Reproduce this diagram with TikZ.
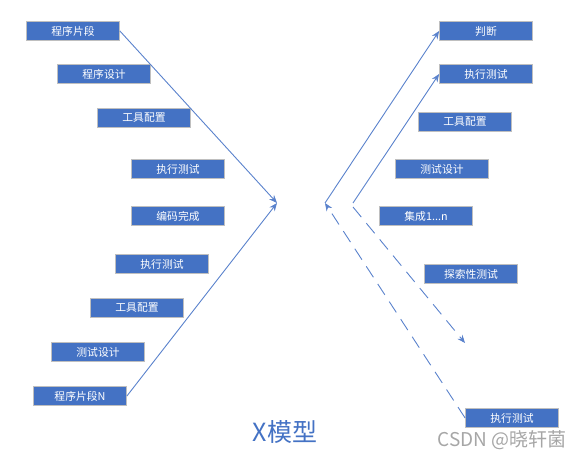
\documentclass[tikz,border=0pt]{standalone}
\usepackage{fontspec}
\setmainfont{Noto Sans CJK SC}
\usepackage{xcolor}
\usetikzlibrary{arrows.meta, positioning}
\definecolor{boxblue}{HTML}{4472C4}
\definecolor{lineblue}{HTML}{5A82CC}
\definecolor{boxedge}{HTML}{BFBFBF}
\definecolor{markgray}{HTML}{A6A6A6}
\tikzset{
  stage/.style={draw=boxedge, line width=0.8pt, fill=boxblue, text=white,
    minimum width=93pt, minimum height=19pt, inner sep=0pt,
    font=\fontsize{10.8}{12}\selectfont},
  flow/.style={draw=lineblue, line width=0.9pt, -{Stealth[length=8pt,width=6.5pt]}},
  dflow/.style={flow, dash pattern=on 13pt off 8pt}
}

\begin{document}
\begin{tikzpicture}[x=1pt, y=-1pt]
    \useasboundingbox (0,0) rectangle (583,460);
    % left branch
    \node[stage] (pieceA) at (73, 31) {程序片段};
    \node[stage] (designA) at (104, 74) {程序设计};
    \node[stage] (toolA) at (144, 118) {工具配置};
    \node[stage] (runA) at (178, 169) {执行测试};
    \node[stage] (code) at (178, 216) {编码完成};
    \node[stage] (runB) at (162, 264) {执行测试};
    \node[stage] (toolB) at (137, 308) {工具配置};
    \node[stage] (designB) at (98, 352) {测试设计};
    \node[stage] (pieceN) at (80, 396) {程序片段N};
    % right branch
    \node[stage] (judge) at (486, 31) {判断};
    \node[stage] (runC) at (486, 74) {执行测试};
    \node[stage] (toolC) at (465, 122) {工具配置};
    \node[stage] (designC) at (442, 169) {测试设计};
    \node[stage] (merge) at (426, 216) {集成1...n};
    \node[stage] (explore) at (471, 274) {探索性测试};
    \node[stage] (runD) at (512, 418) {执行测试};

    \node[text=boxblue, font=\fontsize{25}{28}\selectfont] (title) at (285, 432) {X模型};
    \node[text=markgray, font=\fontsize{19}{21}\selectfont] (mark) at (502, 440) {CSDN @晓轩菌};

    \coordinate (meetL) at (277, 203);
    \coordinate (meetR) at (325, 203);
    \coordinate (meetS) at (353, 203);
    \coordinate (meetD) at (353, 207);
    \coordinate (probe) at (465, 343);

    \draw[flow] (pieceA.east) -- (meetL);
    \draw[flow] (pieceN.east) -- (meetL);
    \draw[flow] (meetR) -- (judge.west);
    \draw[flow] (meetS) -- (runC.west);
    \draw[dflow] (runD.west) -- (meetR);
    \draw[dflow] (meetD) -- (probe);
\end{tikzpicture}
\end{document}
